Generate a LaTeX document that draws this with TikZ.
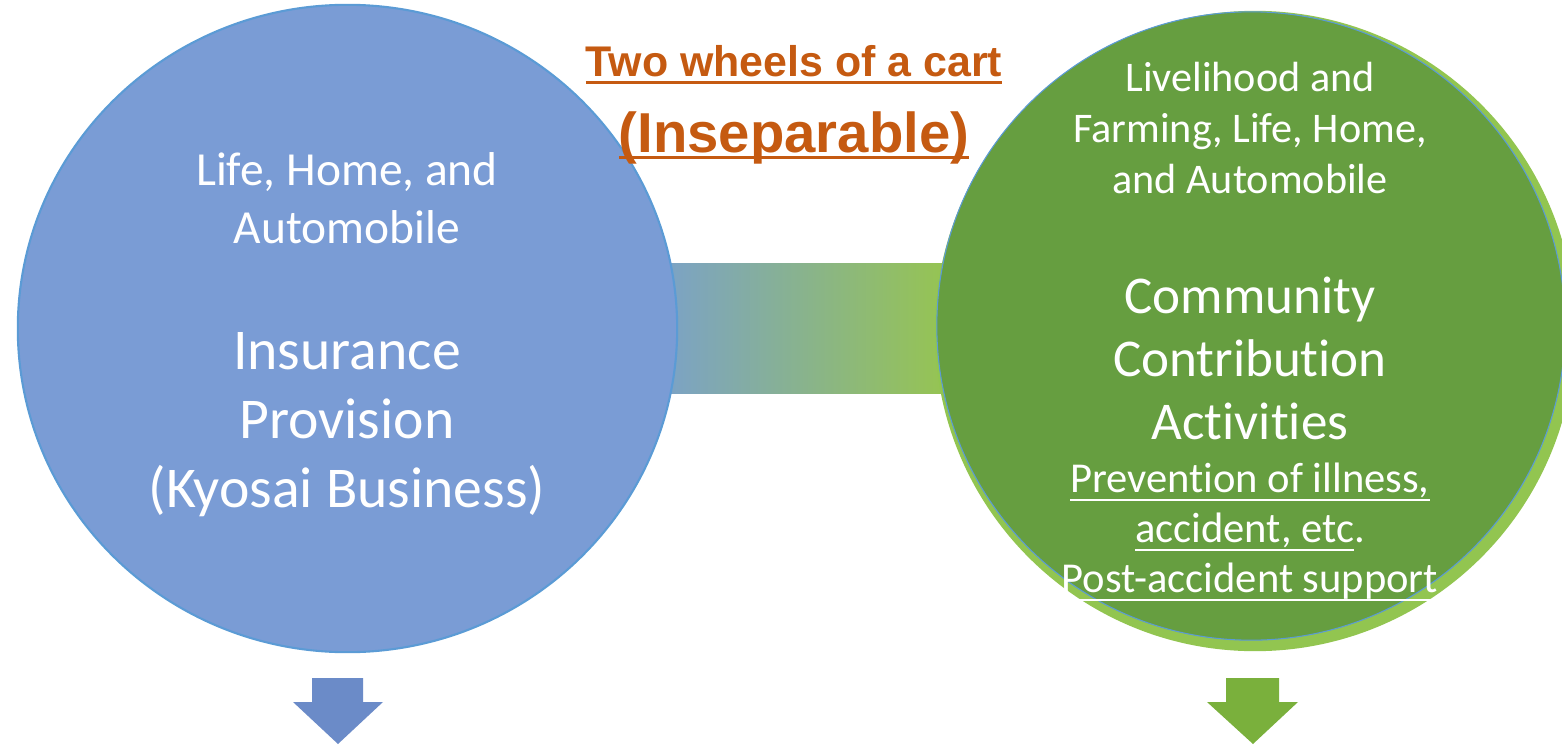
\documentclass[tikz,border=0pt]{standalone}
\usepackage{fontspec}
\setmainfont{Carlito}[Ligatures=NoCommon]
\newfontfamily\titlefont{Liberation Sans}
\newsavebox{\ulbox}
\newcommand{\undr}[3]{\sbox{\ulbox}{#3}\rlap{\rule[-#1]{\wd\ulbox}{#2}}\usebox{\ulbox}}
\usetikzlibrary{shapes.geometric}

\definecolor{insblue}{RGB}{122,156,213}
\definecolor{insedge}{RGB}{91,155,213}
\definecolor{insarrow}{RGB}{107,139,200}
\definecolor{commgreen}{RGB}{102,158,64}
\definecolor{commring}{RGB}{146,197,80}
\definecolor{commarrow}{RGB}{122,176,60}
\definecolor{barleft}{RGB}{124,163,196}
\definecolor{barright}{RGB}{150,196,82}
\definecolor{cartorange}{RGB}{197,90,17}

\begin{document}
\begin{tikzpicture}[x=0.01cm, y=-0.01cm,
  wheel/.style = {shape=ellipse, inner sep=0pt},
  bodytext/.style = {text=white, align=center, inner sep=0pt},
  cart/.style = {text=cartorange, anchor=base, inner sep=0pt}]
  \useasboundingbox (0,0) rectangle (1562,745);

  \shade[left color=barleft, right color=barright] (670,263) rectangle (945,393);

  \node[wheel, fill=insblue, draw=insedge, line width=0.6pt,
    minimum width=6.59cm, minimum height=6.47cm] (kyosai) at (347.5,328.5) {};
  \node[wheel, fill=commring, minimum width=6.4cm, minimum height=6.4cm]
    (ring) at (1255,331) {};
  \node[wheel, fill=commgreen, draw=insedge, line width=0.3pt,
    minimum width=6.28cm, minimum height=6.28cm] (community) at (1251,326) {};

  \node[bodytext, font=\fontsize{13.5}{16.5}\selectfont] (lifehome)
    at (347,198) {Life, Home, and\\Automobile};
  \node[bodytext, font=\fontsize{16.4}{19.6}\selectfont] (insurance)
    at (347,425) {Insurance\\Provision\\(Kyosai Business)};

  \node[bodytext, font=\fontsize{12}{14.5}\selectfont] (livelihood)
    at (1250,128) {Livelihood and\\Farming, Life, Home,\\and Automobile};
  \node[bodytext, font=\fontsize{15.1}{17.9}\selectfont] (contribution)
    at (1250,358) {Community\\Contribution\\Activities};
  \node[bodytext, font=\fontsize{12.1}{14.2}\selectfont] (prevention)
    at (1250,532) {\undr{2.6pt}{0.6pt}{Prevention of illness,}\\
      \undr{2.6pt}{0.6pt}{accident, etc}.\\
      \undr{2.6pt}{0.6pt}{Post-accident support}};

  \node[cart, font=\titlefont\bfseries\fontsize{12.2}{14}\selectfont] (wheels)
    at (794,76) {\undr{2.3pt}{0.85pt}{Two wheels of a cart}};
  \node[cart, font=\titlefont\bfseries\fontsize{16}{19}\selectfont] (inseparable)
    at (794,152) {\undr{2.0pt}{0.85pt}{(Inseparable)}};

  \fill[insarrow] (312,678) -- (363,678) -- (363,702) -- (383,702)
    -- (338,744) -- (293,702) -- (312,702) -- cycle;
  \fill[commarrow] (1226,678) -- (1279,678) -- (1279,702) -- (1298,702)
    -- (1253,744) -- (1207,702) -- (1226,702) -- cycle;
\end{tikzpicture}
\end{document}
